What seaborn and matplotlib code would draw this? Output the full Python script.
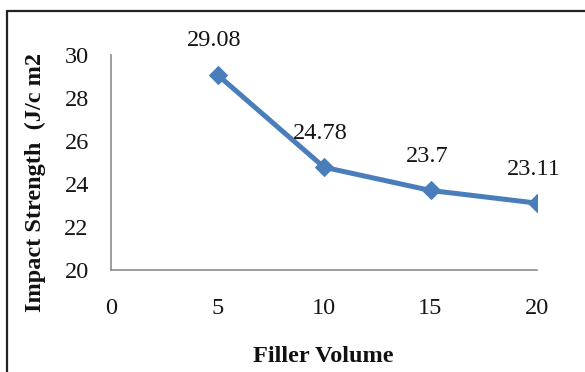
import matplotlib
matplotlib.use("Agg")
import matplotlib.pyplot as plt
from matplotlib.lines import Line2D
import seaborn as sns
import pandas as pd

filler_volume = [5, 10, 15, 20]
impact_strength = [29.08, 24.78, 23.7, 23.11]
value_labels = ["29.08", "24.78", "23.7", "23.11"]
x_ticks = [0, 5, 10, 15, 20]
y_ticks = [20, 22, 24, 26, 28, 30]

sns.set_theme(style="white")
plt.rcParams["font.family"] = ["Liberation Serif", "DejaVu Serif"]

df = pd.DataFrame({"Filler Volume": filler_volume, "Impact Strength": impact_strength})

fig = plt.figure(figsize=(5.85, 3.72), dpi=100)
ax = fig.add_axes([111 / 585, 1 - 270 / 372, (537 - 111) / 585, (270 - 55) / 372])

line_color = "#4A7EBB"
sns.lineplot(data=df, x="Filler Volume", y="Impact Strength", ax=ax,
             color=line_color, linewidth=3.6, marker="D", markersize=9.5,
             markeredgecolor=line_color, markerfacecolor=line_color)

for x, y, lab in zip(filler_volume, impact_strength, value_labels):
    ax.annotate(lab, (x, y), xytext=(-2.5, 24.5), textcoords="offset points",
                ha="center", va="center", fontsize=17.5, color="#141414")

ax.set_xlim(0, 20)
ax.set_ylim(20, 30)
ax.set_xticks(x_ticks)
ax.set_yticks(y_ticks)
ax.tick_params(axis="both", length=0, labelsize=17.5, colors="#141414")
ax.tick_params(axis="y", pad=16)
ax.tick_params(axis="x", pad=20)

for side in ["top", "right"]:
    ax.spines[side].set_visible(False)
for side in ["left", "bottom"]:
    ax.spines[side].set_color("#8c8c8c")
    ax.spines[side].set_linewidth(1.2)

ax.set_xlabel("")
ax.set_ylabel("")
fig.text(323 / 585, 1 - 356 / 372, "Filler Volume", ha="center", va="center",
         fontsize=17.5, fontweight="bold", color="#111111")
fig.text(35 / 585, 1 - 182 / 372, "Impact Strength  (J/c m2", ha="center", va="center",
         rotation=90, fontsize=17.5, fontweight="bold", color="#111111")

# frame around the chart area
fig.add_artist(Line2D([7 / 585, 7 / 585], [0, 1 - 11 / 372], color="#222222", linewidth=1.6))
fig.add_artist(Line2D([7 / 585, 1], [1 - 11 / 372, 1 - 11 / 372], color="#222222", linewidth=1.6))

fig.savefig("out.png", dpi=100)
